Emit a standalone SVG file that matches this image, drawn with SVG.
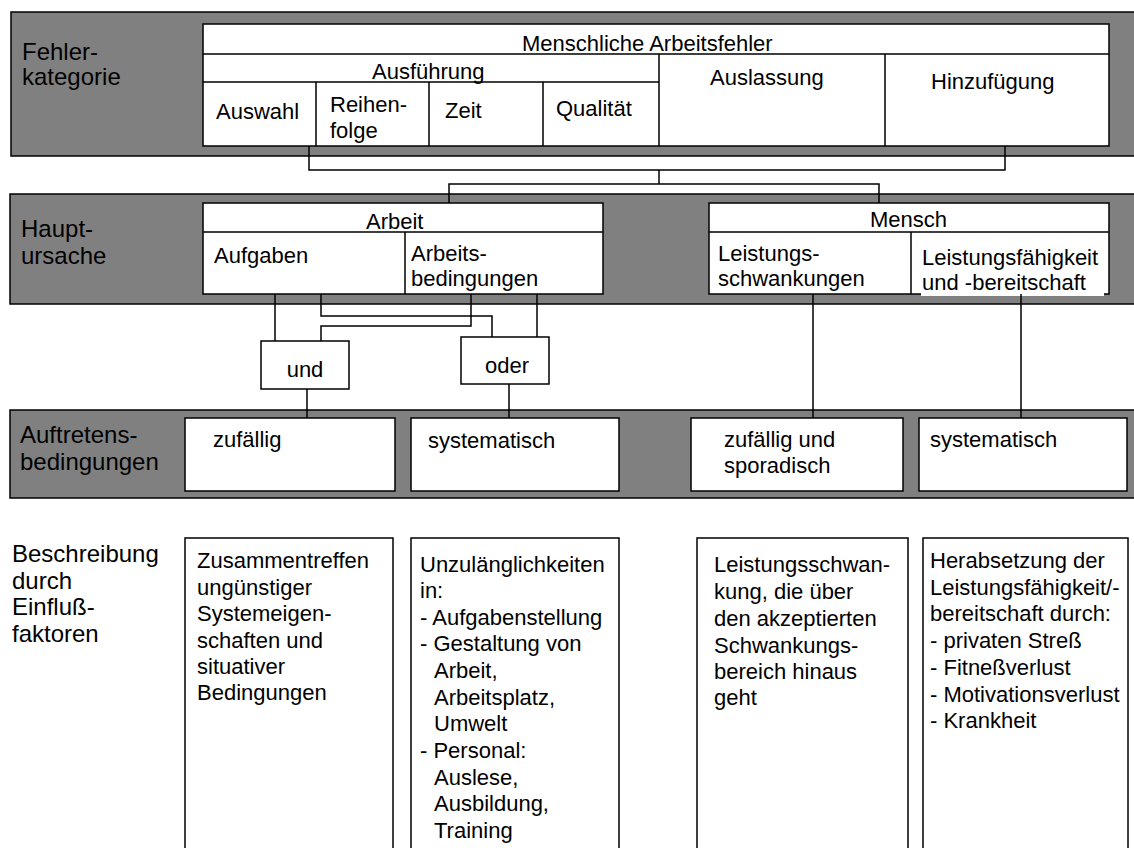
<svg xmlns="http://www.w3.org/2000/svg" width="1134" height="848" viewBox="0 0 1134 848">
  <style>
    text { font-family: "Liberation Sans", Arial, sans-serif; font-size: 22px; fill: #000; }
    .lbl { font-size: 24px; }
    .band { fill: #808080; stroke: #000; stroke-width: 1.5; }
    .box { fill: #fff; stroke: #000; stroke-width: 1.5; }
    .div { fill: none; stroke: #000; stroke-width: 1.5; }
    .conn { fill: none; stroke: #000; stroke-width: 1.5; }
  </style>

  <!-- level bands -->
  <g id="bands">
    <rect class="band" x="11" y="12" width="1140" height="144"/>
    <rect class="band" x="10" y="194" width="1140" height="110"/>
    <rect class="band" x="10" y="410" width="1140" height="88"/>
  </g>

  <!-- row labels -->
  <g id="labels">
    <text class="lbl" x="22" y="60">Fehler-</text>
    <text class="lbl" x="22" y="85">kategorie</text>
    <text class="lbl" x="21" y="237">Haupt-</text>
    <text class="lbl" x="21" y="264">ursache</text>
    <text class="lbl" x="20" y="443">Auftretens-</text>
    <text class="lbl" x="20" y="470">bedingungen</text>
    <text class="lbl" x="12" y="562">Beschreibung</text>
    <text class="lbl" x="12" y="589">durch</text>
    <text class="lbl" x="12" y="615">Einfluß-</text>
    <text class="lbl" x="12" y="642">faktoren</text>
  </g>

  <!-- error categories -->
  <g id="fehlerkategorie">
    <rect class="box" x="203" y="24" width="906" height="122"/>
    <path class="div" d="M203,54 H1109 M203,82 H659 M316,82 V146 M429,82 V146 M543,82 V146 M659,54 V146 M885,54 V146"/>
    <text x="522" y="51">Menschliche Arbeitsfehler</text>
    <text x="372" y="79">Ausführung</text>
    <text x="216" y="119">Auswahl</text>
    <text x="330" y="112">Reihen-</text>
    <text x="330" y="138">folge</text>
    <text x="445" y="118">Zeit</text>
    <text x="556" y="116">Qualität</text>
    <text x="710" y="85">Auslassung</text>
    <text x="931" y="89">Hinzufügung</text>
  </g>

  <!-- main causes -->
  <g id="arbeit">
    <rect class="box" x="203" y="203" width="400" height="91"/>
    <path class="div" d="M203,232 H603 M405,232 V294"/>
    <text x="366" y="229">Arbeit</text>
    <text x="214" y="263">Aufgaben</text>
    <text x="411" y="261">Arbeits-</text>
    <text x="411" y="286">bedingungen</text>
  </g>
  <g id="mensch">
    <rect class="box" x="709" y="203" width="400" height="91"/>
    <path class="div" d="M709,232 H1109 M911,232 V294"/>
    <rect x="921" y="291" width="183" height="5" fill="#fff"/>
    <text x="870" y="227">Mensch</text>
    <text x="718" y="261">Leistungs-</text>
    <text x="718" y="286">schwankungen</text>
    <text x="922" y="265">Leistungsfähigkeit</text>
    <text x="922" y="290">und -bereitschaft</text>
  </g>

  <!-- logic gates -->
  <g id="und">
    <rect class="box" x="261" y="341" width="88" height="48"/>
    <text x="305" y="377" text-anchor="middle">und</text>
  </g>
  <g id="oder">
    <rect class="box" x="461" y="337" width="88" height="47"/>
    <text x="507" y="373" text-anchor="middle">oder</text>
  </g>

  <!-- occurrence conditions -->
  <g id="zufaellig">
    <rect class="box" x="185" y="418" width="210" height="73"/>
    <text x="213" y="447">zufällig</text>
  </g>
  <g id="systematisch1">
    <rect class="box" x="411" y="418" width="208" height="73"/>
    <text x="428" y="448">systematisch</text>
  </g>
  <g id="sporadisch">
    <rect class="box" x="691" y="418" width="212" height="73"/>
    <text x="724" y="447">zufällig und</text>
    <text x="724" y="473">sporadisch</text>
  </g>
  <g id="systematisch2">
    <rect class="box" x="919" y="418" width="208" height="73"/>
    <text x="930" y="447">systematisch</text>
  </g>

  <!-- descriptions -->
  <g id="beschreibung1">
    <rect class="box" x="185" y="538" width="208" height="320"/>
    <text x="197" y="568">Zusammentreffen</text>
    <text x="197" y="595">ungünstiger</text>
    <text x="197" y="621">Systemeigen-</text>
    <text x="197" y="648">schaften und</text>
    <text x="197" y="674">situativer</text>
    <text x="197" y="700">Bedingungen</text>
  </g>
  <g id="beschreibung2">
    <rect class="box" x="411" y="538" width="208" height="320"/>
    <text x="420" y="572">Unzulänglichkeiten</text>
    <text x="420" y="598">in:</text>
    <text x="420" y="625">- Aufgabenstellung</text>
    <text x="420" y="651">- Gestaltung von</text>
    <text x="434" y="678">Arbeit,</text>
    <text x="434" y="705">Arbeitsplatz,</text>
    <text x="434" y="731">Umwelt</text>
    <text x="420" y="758">- Personal:</text>
    <text x="434" y="785">Auslese,</text>
    <text x="434" y="811">Ausbildung,</text>
    <text x="434" y="838">Training</text>
  </g>
  <g id="beschreibung3">
    <rect class="box" x="697" y="538" width="211" height="320"/>
    <text x="714" y="572">Leistungsschwan-</text>
    <text x="714" y="599">kung, die über</text>
    <text x="714" y="626">den akzeptierten</text>
    <text x="714" y="653">Schwankungs-</text>
    <text x="714" y="679">bereich hinaus</text>
    <text x="714" y="705">geht</text>
  </g>
  <g id="beschreibung4">
    <rect class="box" x="923" y="538" width="205" height="320"/>
    <text x="930" y="568">Herabsetzung der</text>
    <text x="930" y="595">Leistungsfähigkeit/-</text>
    <text x="930" y="621">bereitschaft durch:</text>
    <text x="930" y="648">- privaten Streß</text>
    <text x="930" y="675">- Fitneßverlust</text>
    <text x="930" y="702">- Motivationsverlust</text>
    <text x="930" y="728">- Krankheit</text>
  </g>

  <!-- connectors -->
  <g id="connectors">
    <path class="conn" d="M309,146 V170 H1005 V146"/>
    <path class="conn" d="M659,170 V184"/>
    <path class="conn" d="M449,203 V184 H879 V203"/>
    <path class="conn" d="M275,294 V341"/>
    <path class="conn" d="M321,294 V316 H492 V337"/>
    <path class="conn" d="M471,294 V326 H321 V341"/>
    <path class="conn" d="M537,294 V337"/>
    <path class="conn" d="M307,389 V418"/>
    <path class="conn" d="M509,384 V418"/>
    <path class="conn" d="M813,294 V418"/>
    <path class="conn" d="M1021,294 V418"/>
  </g>
</svg>
